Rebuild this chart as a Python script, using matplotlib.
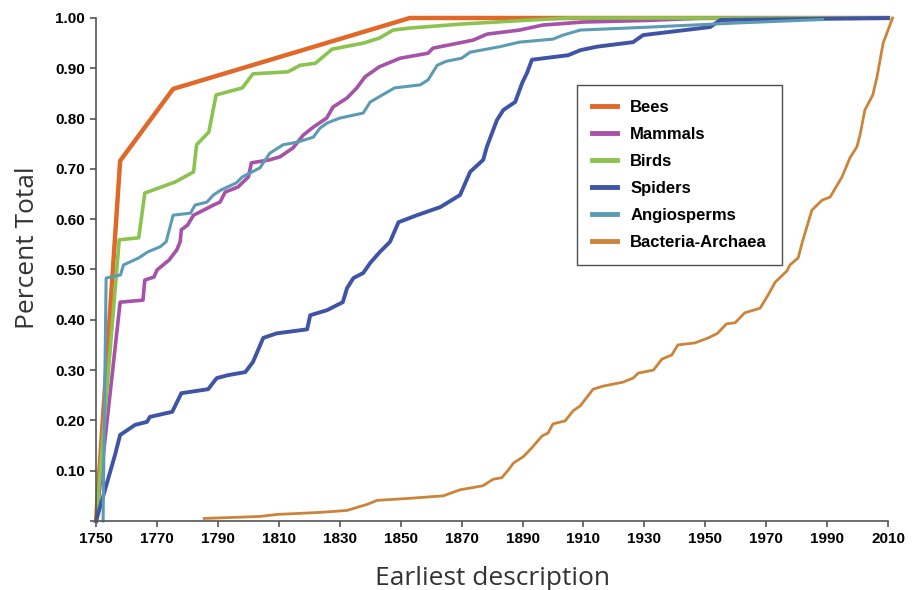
import matplotlib.pyplot as plt

# data (year, cumulative fraction)
bees_x = [1750, 1757.9, 1775.3, 1853, 2010]
bees_y = [0.0, 0.716, 0.859, 1.0, 1.0]

mammals_x = [1750, 1757.9, 1765.4, 1766, 1769, 1770, 1774, 1776.5, 1777.6, 1778, 1780, 1782, 1784,
             1788.5, 1790.7, 1792.4, 1796.6, 1800, 1801, 1807, 1810.4, 1814.7, 1818, 1821.3, 1825.7,
             1827.8, 1832.4, 1835.6, 1838.3, 1843, 1849.8, 1859, 1860.6, 1873.8, 1878.4, 1889,
             1896.7, 1910, 1930, 1950, 2010]
mammals_y = [0.0, 0.435, 0.439, 0.479, 0.485, 0.499, 0.519, 0.539, 0.555, 0.579, 0.588, 0.608, 0.614,
             0.628, 0.634, 0.654, 0.664, 0.684, 0.712, 0.718, 0.724, 0.742, 0.767, 0.783, 0.801,
             0.823, 0.841, 0.861, 0.883, 0.903, 0.920, 0.930, 0.940, 0.956, 0.968, 0.976,
             0.986, 0.992, 0.995, 1.0, 1.0]

birds_x = [1750, 1757.6, 1764, 1766, 1776, 1782, 1783, 1787, 1789.4, 1798, 1801.5, 1813, 1817, 1822,
           1827.5, 1837.7, 1843, 1847.5, 1853, 1870, 1890, 1905, 2010]
birds_y = [0.0, 0.559, 0.563, 0.652, 0.674, 0.694, 0.748, 0.773, 0.847, 0.861, 0.889, 0.893, 0.906, 0.910,
           0.938, 0.950, 0.960, 0.976, 0.980, 0.988, 0.995, 1.0, 1.0]

spiders_x = [1750, 1756.2, 1757.9, 1762.8, 1766.7, 1767.7, 1775, 1778, 1786.8, 1789.6, 1793.4, 1799,
             1801.5, 1804.9, 1809.3, 1819.3, 1820.3, 1825.8, 1831, 1832.4, 1834.5, 1837.7, 1840,
             1843.2, 1846.5, 1849.3, 1855.4, 1863, 1869.5, 1872.8, 1877.1, 1878.3, 1881.6, 1883.7,
             1887.6, 1889.9, 1891.5, 1893.1, 1905, 1909, 1914.5, 1926.3, 1929.6, 1951.6, 1955, 2010]
spiders_y = [0.0, 0.131, 0.171, 0.191, 0.197, 0.207, 0.217, 0.254, 0.262, 0.284, 0.290, 0.296,
             0.316, 0.364, 0.373, 0.381, 0.409, 0.419, 0.435, 0.463, 0.483, 0.493, 0.513,
             0.535, 0.555, 0.594, 0.608, 0.624, 0.648, 0.694, 0.718, 0.744, 0.797, 0.817,
             0.833, 0.871, 0.891, 0.917, 0.926, 0.936, 0.943, 0.952, 0.966, 0.982, 0.996, 1.0]

angio_x = [1752.3, 1753.3, 1758, 1759, 1764, 1767, 1771, 1773, 1775.3, 1781, 1782.5, 1786.4, 1788.5,
           1791, 1796, 1798, 1803.8, 1807, 1811.4, 1816, 1821.3, 1823.5, 1825.8, 1830, 1837.7, 1840,
           1844, 1848, 1856.4, 1859, 1862, 1865, 1870, 1872.8, 1882.6, 1889, 1900, 1903.3, 1909,
           1932, 1960, 1988.5]
angio_y = [0.0, 0.483, 0.489, 0.509, 0.523, 0.535, 0.545, 0.555, 0.608, 0.612, 0.628, 0.634, 0.648,
           0.658, 0.672, 0.684, 0.702, 0.731, 0.748, 0.753, 0.763, 0.781, 0.791, 0.801, 0.811, 0.833,
           0.847, 0.861, 0.867, 0.877, 0.906, 0.914, 0.920, 0.932, 0.943, 0.952, 0.958, 0.966, 0.976,
           0.982, 0.99, 0.997]

bact_x = [1785.5, 1803.8, 1809.4, 1823.5, 1832.4, 1839, 1842.3, 1853, 1864, 1869.5, 1877, 1880.4,
          1883.2, 1885.3, 1887, 1890.3, 1893, 1896.4, 1898.4, 1900, 1904, 1906.6, 1909, 1910.5,
          1913.2, 1916.4, 1923, 1926.3, 1928, 1933, 1935.8, 1939, 1941, 1946.6, 1951, 1954, 1957,
          1959.8, 1963, 1968, 1970.6, 1973, 1976.8, 1977.8, 1980.5, 1981.8, 1985, 1988.4, 1991,
          1994.9, 1997.5, 1999.8, 2000.8, 2002.4, 2005, 2006.4, 2008.4, 2011.5]
bact_y = [0.005, 0.009, 0.013, 0.017, 0.021, 0.033, 0.041, 0.045, 0.050, 0.062, 0.070, 0.083,
          0.086, 0.101, 0.115, 0.128, 0.145, 0.169, 0.175, 0.193, 0.199, 0.219, 0.229, 0.241,
          0.262, 0.268, 0.276, 0.284, 0.294, 0.300, 0.322, 0.330, 0.350, 0.354, 0.364, 0.373, 0.392,
          0.394, 0.414, 0.423, 0.449, 0.475, 0.497, 0.509, 0.523, 0.553, 0.618, 0.638, 0.644,
          0.684, 0.722, 0.744, 0.767, 0.817, 0.847, 0.883, 0.950, 1.0]

series = [
    ("Bees", bees_x, bees_y, "#E0692A", 3.2),
    ("Mammals", mammals_x, mammals_y, "#A552A8", 2.6),
    ("Birds", birds_x, birds_y, "#8CC34F", 2.6),
    ("Spiders", spiders_x, spiders_y, "#3F54A4", 2.8),
    ("Angiosperms", angio_x, angio_y, "#5B9BB3", 2.2),
    ("Bacteria-Archaea", bact_x, bact_y, "#CB8439", 2.0),
]

fig = plt.figure(figsize=(9.15, 5.9), dpi=100)
ax = fig.add_axes([0.105, 0.117, 0.8655, 0.8525])

for name, xs, ys, col, lw in series:
    ax.plot(xs, ys, color=col, lw=lw, label=name, clip_on=False, solid_joinstyle="round")

ax.set_xlim(1750, 2010)
ax.set_ylim(0, 1.0)
ax.set_xticks(range(1750, 2011, 20))
ax.set_yticks([i / 10 for i in range(0, 11)])
ax.set_yticklabels([""] + ["%.2f" % (i / 10) for i in range(1, 11)])

for s in ["top", "right"]:
    ax.spines[s].set_visible(False)
for s in ["left", "bottom"]:
    ax.spines[s].set_color("#555555")
    ax.spines[s].set_linewidth(1.2)
ax.tick_params(direction="out", length=4, width=1.2, color="#555555", pad=4)
for lab in ax.get_xticklabels() + ax.get_yticklabels():
    lab.set_fontfamily("Liberation Sans")
    lab.set_fontweight("bold")
    lab.set_fontsize(11)

ax.set_xlabel("Earliest description", fontsize=19, family="Open Sans", color="#333333", labelpad=14)
ax.set_ylabel("Percent Total", fontsize=19, family="Open Sans", color="#333333")
ax.yaxis.set_label_coords(-0.071, 0.543)

leg = ax.legend(loc="upper left", bbox_to_anchor=(0.6073, 0.8668), frameon=True, fancybox=False,
                prop={"family": "Liberation Sans", "weight": "bold", "size": 12},
                handlelength=1.5, labelspacing=0.72, borderpad=0.9, handletextpad=0.8,
                borderaxespad=0)
leg.get_frame().set_edgecolor("#222222")
leg.get_frame().set_linewidth(1.0)
for h in leg.get_lines():
    h.set_linewidth(3.5)

fig.savefig("out.png", dpi=100)
